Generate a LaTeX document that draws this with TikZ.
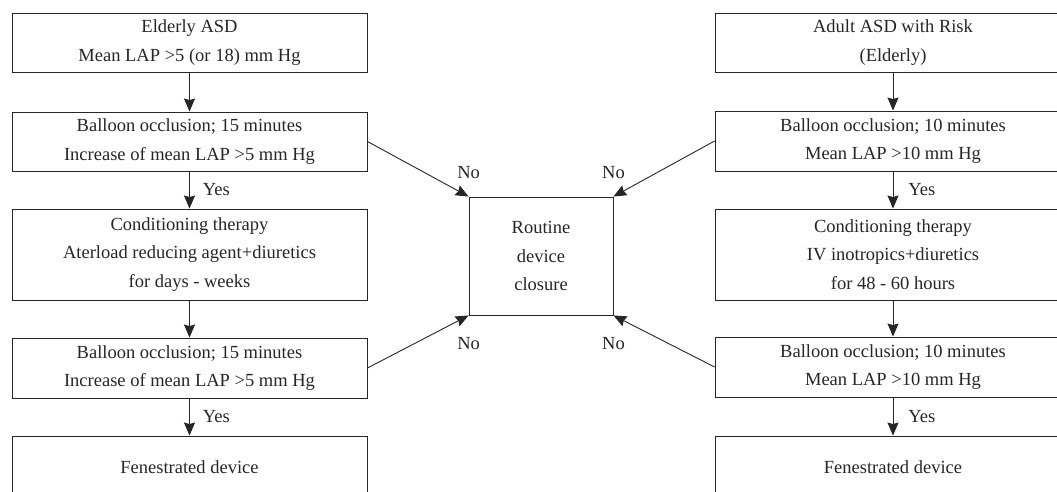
\documentclass[tikz,border=0pt]{standalone}
\usepackage{fontspec}
\setmainfont{Liberation Serif}
\usetikzlibrary{arrows.meta}
\tikzset{b/.style={draw, align=center, inner sep=0pt, minimum width=355pt, minimum height=59pt, font=\fontsize{18.5}{28.5}\selectfont}}
\tikzset{l/.style={font=\fontsize{18.5}{18.5}\selectfont, inner sep=0pt}}

\begin{document}
\begin{tikzpicture}[x=1pt, y=-1pt, color=black!85, line width=0.9pt, >={Stealth[length=13pt,width=11pt,inset=1.5pt]}]
            \useasboundingbox (0,0) rectangle (1057,492);
            % left column
            \node [b] (L1) at (189.5,42.5) {Elderly ASD\\Mean LAP >5 (or 18) mm Hg};
            \node [b] (L2) at (189.5,141.5) {Balloon occlusion; 15 minutes\\Increase of mean LAP >5 mm Hg}
              edge [<-] (L1);
            \node [b, minimum height=91pt] (L3) at (189.5,254.5) {Conditioning therapy\\Aterload reducing agent+diuretics\\for days - weeks}
              edge [<-] node [l, right=13pt] {Yes} (L2);
            \node [b, minimum height=60pt] (L4) at (189.5,368) {Balloon occlusion; 15 minutes\\Increase of mean LAP >5 mm Hg}
              edge [<-] (L3);
            \node [b, minimum height=62pt] (L5) at (189.5,467) {Fenestrated device}
              edge [<-] node [l, right=13pt] {Yes} (L4);
            % right column
            \node [b, minimum width=356pt] (R1) at (893,42.5) {Adult ASD with Risk\\(Elderly)};
            \node [b, minimum width=356pt, minimum height=60pt] (R2) at (893,141) {Balloon occlusion; 10 minutes\\Mean LAP >10 mm Hg}
              edge [<-] (R1);
            \node [b, minimum width=356pt, minimum height=91pt] (R3) at (893,254.5) {Conditioning therapy\\IV inotropics+diuretics\\for 48 - 60 hours}
              edge [<-] node [l, right=15pt] {Yes} (R2);
            \node [b, minimum width=356pt, minimum height=60pt] (R4) at (893,367) {Balloon occlusion; 10 minutes\\Mean LAP >10 mm Hg}
              edge [<-] (R3);
            \node [b, minimum width=356pt, minimum height=62pt] (R5) at (893,467) {Fenestrated device}
              edge [<-] node [l, right=15pt] {Yes} (R4);
            % middle
            \node [b, minimum width=144pt, minimum height=118pt] (C) at (541,256) {Routine\\device\\closure};
            \draw [->] (L2.east) -- (C.north west) node [l, pos=1, above=17pt] {No};
            \draw [->] (R2.west) -- (C.north east) node [l, pos=1, above=17pt] {No};
            \draw [->] (L4.east) -- (C.south west) node [l, pos=1, below=21pt] {No};
            \draw [->] (R4.west) -- (C.south east) node [l, pos=1, below=21pt] {No};
          \end{tikzpicture}
\end{document}
